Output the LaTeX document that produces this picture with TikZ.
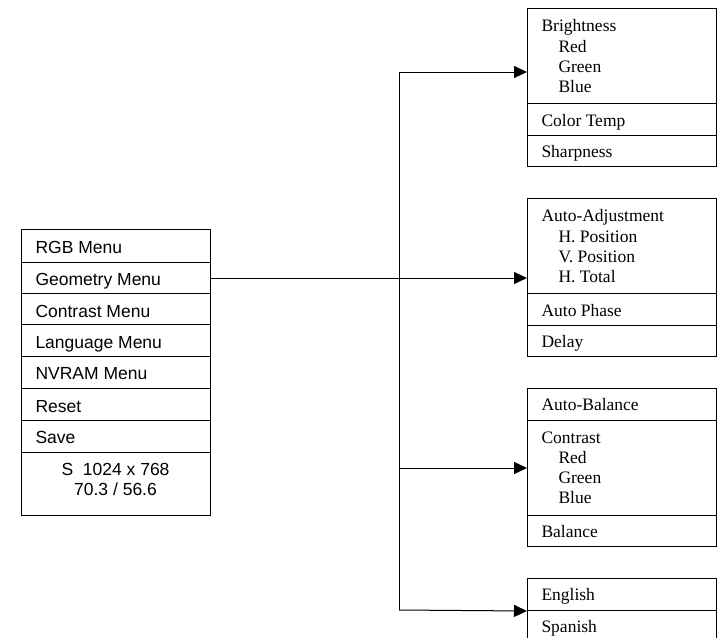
\documentclass[tikz,border=0pt]{standalone}
\usepackage{fontspec}
\setmainfont{Liberation Serif}
\newfontfamily\arialf{Liberation Sans}
\usetikzlibrary{arrows.meta}
\begin{document}
\begin{tikzpicture}[x=1pt,y=-1pt,line width=1pt,
  row/.style={draw, inner sep=0pt, anchor=north west, minimum width=189pt},
  lt/.style={anchor=base west, inner sep=0pt, font=\arialf\fontsize{17.5}{20}\selectfont},
  lc/.style={anchor=base, inner sep=0pt, font=\arialf\fontsize{17.5}{20}\selectfont},
  rt/.style={anchor=base west, inner sep=0pt, font=\fontsize{17.5}{20}\selectfont},
  arr/.style={-{Triangle[length=13pt,width=12pt]}}]
\clip (0,0) rectangle (719,637);
% left menu
\node[row, minimum height=33pt] (rgb) at (21,229) {};
\node[row, minimum height=31pt] (geo) at (21,262) {};
\node[row, minimum height=31pt] (con) at (21,293) {};
\node[row, minimum height=32pt] (lang) at (21,324) {};
\node[row, minimum height=32pt] (nv) at (21,356) {};
\node[row, minimum height=32pt] (rst) at (21,388) {};
\node[row, minimum height=32pt] (sav) at (21,420) {};
\node[row, minimum height=63pt] (inf) at (21,452) {};
\node[lt] (trgb) at (35,253) {RGB Menu};
\node[lt] (tgeo) at (35,285) {Geometry Menu};
\node[lt] (tcon) at (35,317) {Contrast Menu};
\node[lt] (tlang) at (35,348) {Language Menu};
\node[lt] (tnv) at (35,379) {NVRAM Menu};
\node[lt] (trst) at (35,412) {Reset};
\node[lt] (tsav) at (35,443) {Save};
\node[lc] (tinf1) at (115.5,475) {S\ \ 1024 x 768};
\node[lc] (tinf2) at (115.5,495) {70.3 / 56.6};
% box 1
\node[row, minimum height=95pt] (b1a) at (527,8) {};
\node[row, minimum height=32pt] (b1b) at (527,103) {};
\node[row, minimum height=31pt] (b1c) at (527,135) {};
\node[rt] (t1a) at (541,31) {Brightness};
\node[rt] (t1b) at (558,52) {Red};
\node[rt] (t1c) at (558,72) {Green};
\node[rt] (t1d) at (558,92) {Blue};
\node[rt] (t1e) at (541,126) {Color Temp};
\node[rt] (t1f) at (541,157) {Sharpness};
% box 2
\node[row, minimum height=95pt] (b2a) at (527,198) {};
\node[row, minimum height=32pt] (b2b) at (527,293) {};
\node[row, minimum height=31pt] (b2c) at (527,325) {};
\node[rt] (t2a) at (541,221) {Auto-Adjustment};
\node[rt] (t2b) at (558,242) {H. Position};
\node[rt] (t2c) at (558,262) {V. Position};
\node[rt] (t2d) at (558,282) {H. Total};
\node[rt] (t2e) at (541,316) {Auto Phase};
\node[rt] (t2f) at (541,347) {Delay};
% box 3
\node[row, minimum height=32pt] (b3a) at (527,388) {};
\node[row, minimum height=95pt] (b3b) at (527,420) {};
\node[row, minimum height=31pt] (b3c) at (527,515) {};
\node[rt] (t3a) at (541,410) {Auto-Balance};
\node[rt] (t3b) at (541,443) {Contrast};
\node[rt] (t3c) at (558,463) {Red};
\node[rt] (t3d) at (558,483) {Green};
\node[rt] (t3e) at (558,503) {Blue};
\node[rt] (t3f) at (541,537) {Balance};
% box 4
\node[row, minimum height=32pt] (b4a) at (527,578) {};
\node[row, minimum height=40pt] (b4b) at (527,610) {};
\node[rt] (t4a) at (541,600) {English};
\node[rt] (t4b) at (541,632) {Spanish};
% connectors
\coordinate (k1) at (399,72);
\coordinate (k3) at (399,468);
\coordinate (k4) at (399,610);
\draw (k1) -- (k4);
\draw[arr] (geo.east) -- (geo.east -| b2a.west);
\draw[arr] (k1) -- (k1 -| b1a.west);
\draw[arr] (k3) -- (k3 -| b3b.west);
\draw[arr] (k4) -- (b4a.south west);
\end{tikzpicture}
\end{document}
